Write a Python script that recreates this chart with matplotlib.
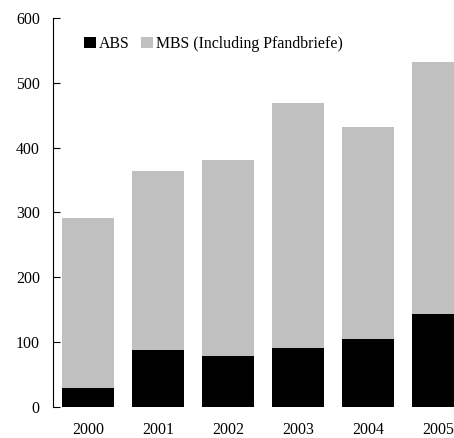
import matplotlib
matplotlib.use("Agg")
import matplotlib.pyplot as plt
import numpy as np

years = ["2000", "2001", "2002", "2003", "2004", "2005"]
abs_vals = [30, 88, 79, 91, 105, 143]
total_vals = [292, 364, 381, 469, 432, 532]
mbs_vals = [t - a for t, a in zip(total_vals, abs_vals)]

plt.rcParams['font.family'] = ['Liberation Serif', 'DejaVu Serif']
plt.rcParams['font.size'] = 11.4

W, H = 454, 438
fig = plt.figure(figsize=(W / 100, H / 100), dpi=100)
ax = fig.add_axes([53 / W, (H - 407) / H, 420 / W, 389 / H])

x = np.arange(len(years))
ax.bar(x, abs_vals, width=0.73, color="black", label="ABS")
ax.bar(x, mbs_vals, bottom=abs_vals, width=0.73, color="#c0c0c0",
       label="MBS (Including Pfandbriefe)")

ax.set_xlim(-0.5, 5.5)
ax.set_ylim(0, 600)
ax.set_yticks(range(0, 601, 100))
ax.set_xticks(x)
ax.set_xticklabels(years)
for s in ["top", "right", "bottom"]:
    ax.spines[s].set_visible(False)
ax.spines["left"].set_linewidth(0.8)
ax.tick_params(axis="x", length=0, pad=11)
ax.tick_params(axis="y", direction="in", length=5, width=0.8, pad=9.5)

ax.legend(loc="upper left", bbox_to_anchor=(0.058, 0.97), ncol=2, frameon=False,
          handlelength=0.75, handleheight=0.75, handletextpad=0.2,
          columnspacing=0.75, borderaxespad=0)

fig.savefig("out.png", dpi=100)
